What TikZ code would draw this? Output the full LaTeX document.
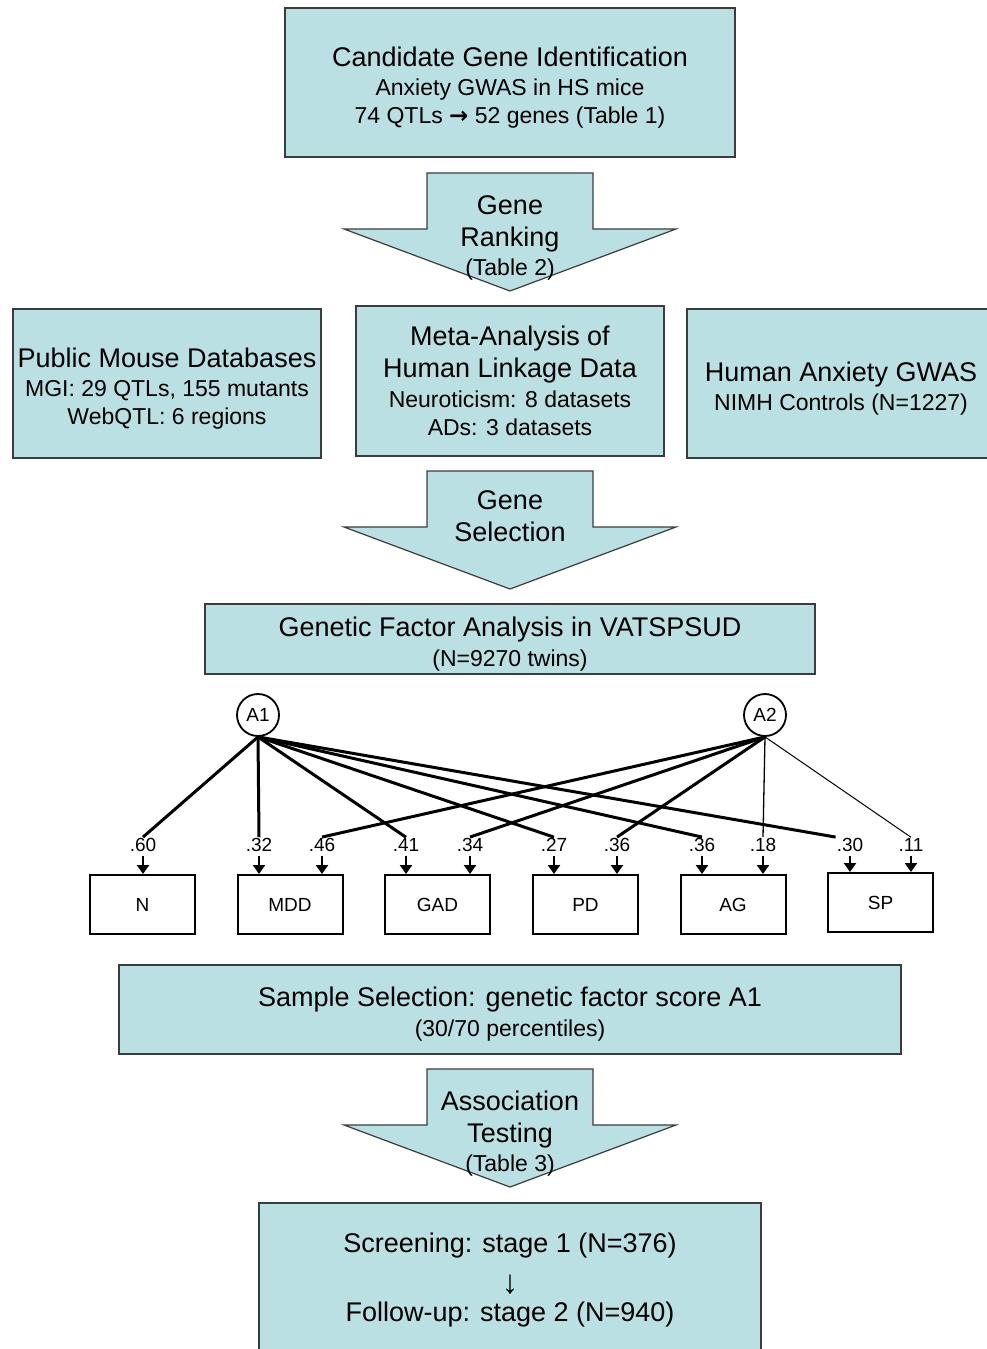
\documentclass[tikz,border=0pt]{standalone}
\usepackage{fontspec}
\setmainfont{Liberation Sans}
\newfontfamily\arrowfont{DejaVu Sans}
\usetikzlibrary{arrows.meta}

\definecolor{boxfill}{RGB}{187,224,227}
\definecolor{boxline}{RGB}{60,60,60}
\newcommand\smallline{\fontsize{23}{30}\selectfont}
\newcommand\padtop[1]{\rule{0pt}{#1}}

\tikzset{
  stage/.style={draw=boxline, line width=1.5pt, fill=boxfill, align=center,
    inner sep=0pt, font=\fontsize{27}{30}\selectfont},
  blockarrow/.style={draw=boxline, line width=1.2pt, fill=boxfill, line join=miter},
  arrowtext/.style={align=center, inner sep=0pt, font=\fontsize{27}{32}\selectfont},
  latent/.style={circle, draw, line width=1.8pt, minimum size=42pt, inner sep=0pt,
    font=\fontsize{19}{22}\selectfont},
  observed/.style={rectangle, draw, line width=2pt, minimum width=105pt,
    minimum height=59pt, font=\fontsize{19}{22}\selectfont},
  loading/.style={inner sep=1pt, font=\fontsize{19}{22}\selectfont},
  loadline/.style={line width=3pt},
  weakline/.style={line width=1.3pt},
  tip/.style={-{Triangle[width=12pt,length=9pt]}, line width=2.2pt, shorten <=3pt}
}

\begin{document}
\begin{tikzpicture}[x=1pt, y=-1pt]
\useasboundingbox (0,0) rectangle (987,1349);

% flow chart
\node[stage, minimum width=450pt, minimum height=149pt] (cand) at (510,82.5)
  {\padtop{29.5pt}Candidate Gene Identification\\[-1pt]\smallline Anxiety GWAS in HS mice\\[-2pt]
   \smallline 74 QTLs {\arrowfont\bfseries →} 52 genes (Table 1)};

\foreach \y in {173,471,1069}
  \draw[blockarrow] (427,\y) -- (593,\y) -- (593,\y+56) -- (676,\y+56)
    -- (510,\y+118) -- (344,\y+56) -- (427,\y+56) -- cycle;
\node[arrowtext] (rank) at (510,238) {Gene\\Ranking\\[-3pt]\smallline(Table 2)};

\node[stage, minimum width=308pt, minimum height=149pt] (mouse) at (167,383.5)
  {\padtop{29.5pt}Public Mouse Databases\\[-1pt]\smallline MGI: 29 QTLs, 155 mutants\\[-2pt]
   \smallline WebQTL: 6 regions};
\node[stage, minimum width=308pt, minimum height=150pt] (meta) at (510,381)
  {Meta-Analysis of\\[2pt]Human Linkage Data\\\smallline Neuroticism: 8 datasets\\[-2pt]
   \smallline ADs: 3 datasets};
\node[stage, minimum width=308pt, minimum height=149pt] (gwas) at (841,383.5)
  {\padtop{29.5pt}Human Anxiety GWAS\\[-1pt]\smallline NIMH Controls (N=1227)};

\node[arrowtext] (sel) at (510,516) {Gene\\Selection};

\node[stage, minimum width=610pt, minimum height=70pt] (gfa) at (510,639)
  {\padtop{29.5pt}Genetic Factor Analysis in VATSPSUD\\\smallline(N=9270 twins)};

% path model
\node[latent] (A1) at (258,715) {A1};
\node[latent] (A2) at (765,715) {A2};

\foreach \name/\x/\txt in {N/142.5/N, MDD/290/MDD, GAD/437.5/GAD, PD/585.5/PD, AG/733/AG}
  \node[observed] (\name) at (\x,904.5) {\txt};
\node[observed] (SP) at (880.5,902.5) {SP};

\foreach \name/\x/\val in {l60/143/.60, l32/259/.32, l46/322/.46, l41/406/.41,
    l34/470/.34, l27/554/.27, l36a/617/.36, l36b/702/.36, l18/763/.18,
    l30/850/.30, l11/911/.11}
  \node[loading] (\name) at (\x,845) {\val};

\foreach \name/\target in {l60/N, l32/MDD, l46/MDD, l41/GAD, l34/GAD, l27/PD,
    l36a/PD, l36b/AG, l18/AG, l30/SP, l11/SP}
  \draw[tip] (\name.south) -- (\name.south |- \target.north);

\foreach \tgt in {l60.north, l32.north, l41.north, l27.north, l36b.north, l30.north west}
  \draw[loadline] (A1.south) -- (\tgt);
\foreach \tgt in {l46.north, l34.north, l36a.north}
  \draw[loadline] (A2.south) -- (\tgt);
\draw[weakline] (A2.south) -- (l18.north);
\draw[line width=1pt] (A2.south) -- (l11.north);

% selection and testing
\node[stage, minimum width=782pt, minimum height=89pt] (sample) at (510,1009.5)
  {\padtop{29.5pt}Sample Selection: genetic factor score A1\\\smallline(30/70 percentiles)};

\node[arrowtext] (assoc) at (510,1134) {Association\\Testing\\[-3pt]\smallline(Table 3)};

\node[stage, minimum width=502pt, minimum height=150pt] (stages) at (510,1278)
  {\padtop{24pt}Screening: stage 1 (N=376)\\[11pt]{\fontsize{33}{30}\selectfont ↓}\\[-2pt]
   Follow-up: stage 2 (N=940)};
\end{tikzpicture}
\end{document}
